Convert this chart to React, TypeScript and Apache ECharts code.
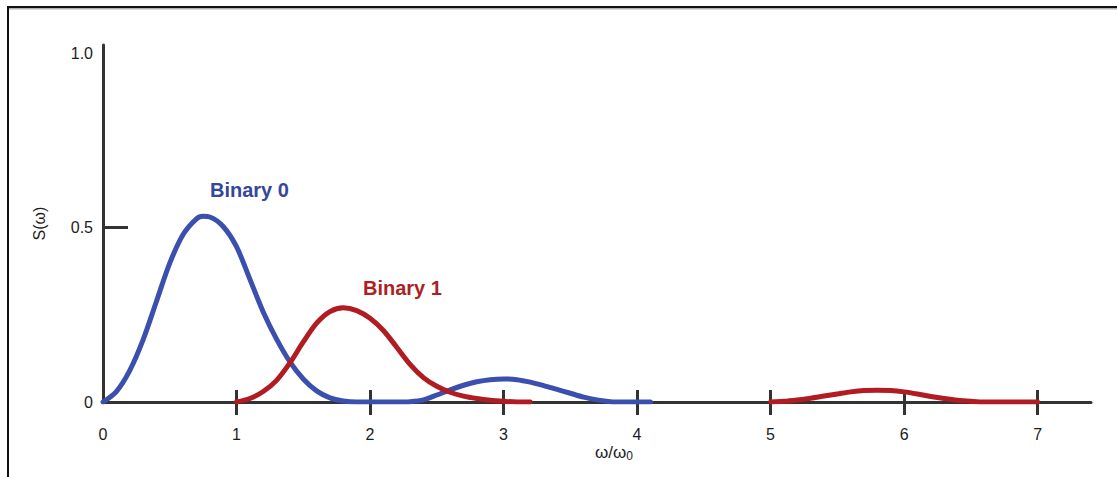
import React, { useEffect, useRef } from "react";
import * as echarts from "echarts";

// Axis ticks and labels
const xLabelValues = [0, 1, 2, 3, 4, 5, 6, 7];
const xTickValues = [1, 2, 3, 4, 5, 6, 7];
const yLabelValues = [0, 0.5, 1];
const yTickValues = [0.5];

// Spectrum of the "0" symbol (main lobe plus side lobe)
const binary0X = [
  0, 0.1, 0.2, 0.3, 0.4, 0.5, 0.6, 0.7, 0.75, 0.8, 0.9, 1.0, 1.1, 1.2, 1.3,
  1.4, 1.5, 1.6, 1.7, 1.8, 1.9, 2.0, 2.1, 2.2, 2.3, 2.4, 2.5, 2.6, 2.7, 2.8,
  2.9, 3.0, 3.1, 3.2, 3.3, 3.4, 3.5, 3.6, 3.7, 3.8, 3.9, 4.0, 4.1,
];
const binary0Y = [
  0, 0.03, 0.09, 0.178, 0.288, 0.398, 0.48, 0.525, 0.532, 0.53, 0.503, 0.445,
  0.352, 0.258, 0.18, 0.115, 0.066, 0.032, 0.012, 0.003, 0, 0, 0, 0, 0.001,
  0.006, 0.02, 0.035, 0.048, 0.058, 0.064, 0.066, 0.064, 0.057, 0.047, 0.036,
  0.025, 0.014, 0.006, 0.001, 0, 0, 0,
];

// Spectrum of the "1" symbol: first lobe
const binary1LowX = [
  1.0, 1.1, 1.2, 1.3, 1.4, 1.5, 1.6, 1.7, 1.8, 1.9, 2.0, 2.1, 2.2, 2.3, 2.4,
  2.5, 2.6, 2.7, 2.8, 2.9, 3.0, 3.1, 3.2,
];
const binary1LowY = [
  0, 0.01, 0.03, 0.062, 0.112, 0.172, 0.226, 0.259, 0.27, 0.262, 0.24, 0.205,
  0.157, 0.108, 0.07, 0.045, 0.028, 0.017, 0.01, 0.005, 0.002, 0, 0,
];

// Spectrum of the "1" symbol: upper lobe
const binary1HighX = [
  5.0, 5.1, 5.2, 5.3, 5.4, 5.5, 5.6, 5.7, 5.8, 5.9, 6.0, 6.1, 6.2, 6.3, 6.4,
  6.5, 6.6, 6.7, 6.8, 6.9, 7.0,
];
const binary1HighY = [
  0, 0.002, 0.006, 0.011, 0.017, 0.023, 0.029, 0.033, 0.034, 0.033, 0.029,
  0.023, 0.016, 0.01, 0.005, 0.002, 0, 0, 0, 0, 0,
];

const BLUE = "#3a4fae";
const RED = "#b11b22";
const AXIS = "#333333";
const TEXT = "#1c1c1c";
const FONT = "'Liberation Sans', Arial, Helvetica, sans-serif";

const pairs = (xs: number[], ys: number[]) => xs.map((x, i) => [x, ys[i]]);

export default function App() {
  const ref = useRef<HTMLDivElement>(null);

  useEffect(() => {
    if (!ref.current) return;
    const chart = echarts.init(ref.current, undefined, { renderer: "svg" });

    const lineSeries = (name: string, data: number[][], color: string) => ({
      name,
      type: "line",
      data,
      xAxisIndex: 0,
      yAxisIndex: 0,
      smooth: 0.3,
      symbol: "none",
      showSymbol: false,
      silent: true,
      lineStyle: { color, width: 5, cap: "round", join: "round" },
    });

    chart.setOption({
      animation: false,
      backgroundColor: "#ffffff",
      grid: { left: 103, right: 26, top: 45, bottom: 75, containLabel: false },
      xAxis: [
        {
          type: "value",
          position: "bottom",
          min: 0,
          max: 7.4,
          interval: 1,
          axisLine: { show: true, lineStyle: { color: AXIS, width: 3 } },
          axisTick: {
            show: true,
            customValues: xTickValues,
            length: 13,
            inside: false,
            lineStyle: { color: AXIS, width: 3 },
          },
          axisLabel: {
            customValues: xLabelValues,
            margin: 24,
            color: TEXT,
            fontSize: 16,
            fontFamily: FONT,
            formatter: (v: number) => String(v),
          },
          splitLine: { show: false },
        },
        {
          type: "value",
          position: "bottom",
          min: 0,
          max: 7.4,
          interval: 1,
          axisLine: { show: false },
          axisTick: {
            show: true,
            customValues: xTickValues,
            length: 12,
            inside: true,
            lineStyle: { color: AXIS, width: 3 },
          },
          axisLabel: { show: false },
          splitLine: { show: false },
        },
      ],
      yAxis: {
        type: "value",
        min: 0,
        max: 1.023,
        name: "S(ω)",
        nameLocation: "middle",
        nameGap: 56,
        nameTextStyle: { color: TEXT, fontSize: 16, fontFamily: FONT },
        axisLine: { show: true, lineStyle: { color: AXIS, width: 3 } },
        axisTick: {
          show: true,
          customValues: yTickValues,
          inside: true,
          length: 25,
          lineStyle: { color: AXIS, width: 3 },
        },
        axisLabel: {
          customValues: yLabelValues,
          margin: 10,
          color: TEXT,
          fontSize: 16,
          fontFamily: FONT,
          formatter: (v: number) => (v === 1 ? "1.0" : String(v)),
        },
        splitLine: { show: false },
      },
      series: [
        lineSeries("Binary 0", pairs(binary0X, binary0Y), BLUE),
        lineSeries("Binary 1", pairs(binary1LowX, binary1LowY), RED),
        lineSeries("Binary 1 upper", pairs(binary1HighX, binary1HighY), RED),
      ],
      graphic: [
        // frame edges
        { type: "rect", silent: true, shape: { x: 7, y: 6, width: 1110, height: 2 }, style: { fill: "#111" } },
        { type: "rect", silent: true, shape: { x: 9, y: 8, width: 1108, height: 1.5 }, style: { fill: "#b0b0b0" } },
        { type: "rect", silent: true, shape: { x: 7, y: 6, width: 2, height: 471 }, style: { fill: "#111" } },
        // curve annotations
        {
          type: "text",
          silent: true,
          x: 210,
          y: 190,
          style: {
            text: "Binary 0",
            fill: "#34479a",
            font: `bold 20px ${FONT}`,
            textAlign: "left",
            textVerticalAlign: "middle",
          },
        },
        {
          type: "text",
          silent: true,
          x: 363,
          y: 288,
          style: {
            text: "Binary 1",
            fill: "#ad1f25",
            font: `bold 20px ${FONT}`,
            textAlign: "left",
            textVerticalAlign: "middle",
          },
        },
        // x axis title with subscript
        {
          type: "text",
          silent: true,
          x: 595,
          y: 452,
          style: {
            text: "ω/ω{sub|0}",
            fill: TEXT,
            font: `17px ${FONT}`,
            textAlign: "left",
            textVerticalAlign: "middle",
            rich: {
              sub: { fontSize: 12, fontFamily: FONT, fill: TEXT, padding: [8, 0, 0, 0] },
            },
          },
        },
      ],
    });

    return () => chart.dispose();
  }, []);

  return (
    <div
      ref={ref}
      style={{ position: "fixed", left: 0, top: 0, width: 1117, height: 477, background: "#fff" }}
    />
  );
}
